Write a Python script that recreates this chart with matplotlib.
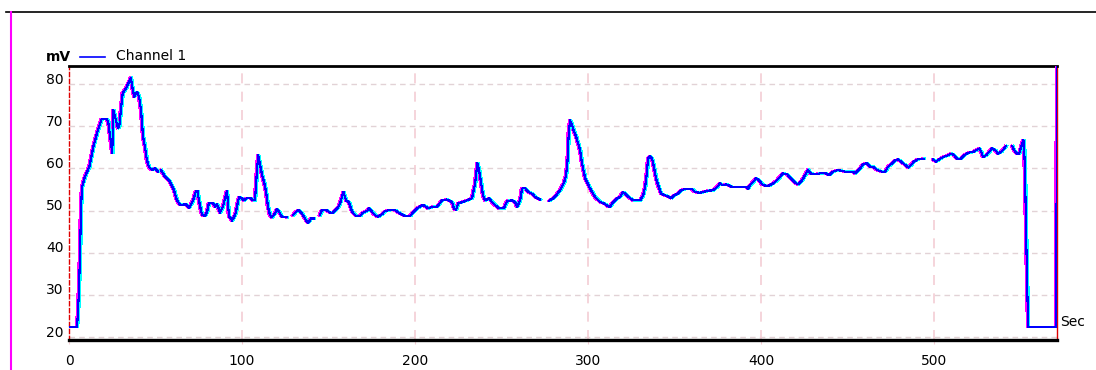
import numpy as np
import matplotlib
matplotlib.use("Agg")
import matplotlib.pyplot as plt
from matplotlib import transforms
from matplotlib.lines import Line2D

nan = np.nan

# time (sec) and channel 1 reading (mV)
t = [0, 4.6, 5.2, 5.8, 6.4, 6.9, 7.5, 9.2, 11.7, 14, 16.4, 18.9, 21.8, 22.7, 25,
     25.6, 28.3, 29, 30, 31, 33, 34.7, 35.8, 36.4, 37.7, 39.3, 40.5, 41.6, 42.8,
     43.9, 45, 46.2, 48, 49.7, 51.4, 52.3, 53.2, 55.5, 58.4, 60.7, 62.4, 64.2,
     67.6, 69.4, 71.7, 73.4, 74.3, 75.1, 76.9, 78.6, 79.8, 80.9, 83.2, 84.4, 85.5,
     87.3, 89, 90.6, 91.3, 92.5, 93.6, 94.2, 96, 97.1, 98.3, 100, 101.2, 102.9,
     104.6, 106.4, 107.5, 108.7, 109.4, 110.4, 111.6, 112.7, 113.9, 115, 116.2,
     117.3, 119, 120.2, 121.4, 123.1, 126, 127.5, 129.5, 131.2, 132.9, 135.3, 137,
     138.2, 139.9, 141.6, 143.5, 145, 146.2, 148.6, 150.9, 152.6, 154.3, 156,
     157.2, 158.6, 160.1, 161.8, 163.6, 165.9, 168.2, 169.9, 172.3, 173.4, 175.1,
     176.9, 178.6, 180.9, 182.7, 185.5, 188.4, 191.3, 194.2, 197.1, 200, 202.9,
     204.8, 207.5, 210.4, 212.7, 215.6, 218.5, 221.4, 222.5, 223.7, 224.9, 227.2,
     230, 232.9, 234.7, 236, 237, 238.2, 239.3, 240.5, 242.8, 244.5, 246.2, 248.6,
     251.4, 253.2, 256.1, 257.8, 259, 260.7, 261.8, 263.6, 265.3, 267.6, 269.4,
     272.3, 275, 277.5, 279.8, 281.5, 283.8, 286.1, 287.3, 288.2, 288.8, 289.6,
     290.8, 291.9, 293.1, 295.4, 296.5, 298.3, 301.2, 304, 307, 309.2, 311.6,
     312.7, 314.5, 316.8, 318.5, 320.2, 322.5, 324.3, 326, 330.1, 331.8, 333,
     333.9, 334.7, 335.8, 337, 338.2, 339.3, 340.5, 342.2, 344.5, 346.8, 348,
     349.7, 352, 353.8, 356.1, 360.1, 361.8, 364.7, 369.4, 372.3, 374.6, 376.3,
     377.5, 379.8, 383.2, 387.9, 391.3, 392.5, 393.6, 395.4, 397.1, 398.8, 400.6,
     402.9, 405.2, 407.5, 409.2, 411, 412.7, 415, 417.3, 419.7, 421.4, 423.7, 426,
     427.2, 428.3, 431.2, 434.1, 437, 439.3, 441.6, 444.5, 448.6, 453.2, 454.3,
     457.2, 459, 461.3, 463, 464.7, 467.1, 470, 471.7, 473.4, 475.7, 477.5, 479.2,
     480.9, 483.2, 485, 486.7, 488.4, 490.8, 494.2, 497, 499.4, 501.2, 502.9,
     505.2, 508.1, 509.8, 511.6, 513.3, 515.6, 517.3, 519.7, 522.5, 524.3, 526,
     527.2, 528.3, 530, 531.8, 533.5, 535.3, 537, 538.7, 540.5, 541.5, 543.5,
     545.1, 546.2, 548, 549.1, 550.3, 551.6, 552, 552.6, 553.1, 554.3, 570.5,
     571.1]
mv = [22.4, 22.4, 25.7, 31.8, 40, 50, 55.5, 58, 60.3, 65, 68.6, 71.7, 71.7, 71,
      63.6, 73.9, 69.5, 69.8, 73.9, 77.8, 79, 80.5, 81.5, 79.7, 77, 78.1, 77,
      73.9, 67.5, 65.1, 62, 60.3, 59.6, 60, 59.2, nan, 59.6, 58, 56.8, 54.8, 52.4,
      51.3, 51.5, 50.6, 52.4, 54.6, 54.6, 52.4, 48.9, 48.7, 49.7, 51.8, 51.8,
      50.9, 51.6, 49.5, 50.9, 53.6, 54.6, 48.5, 48.1, 47.6, 48.9, 50.9, 53.2,
      52.9, 52.4, 53, 53, 52.4, 52.4, 60, 63.1, 60.8, 58.4, 56.8, 54.4, 50.9,
      48.9, 48.4, 49.3, 50.3, 49.7, 48.5, 48.4, nan, 48.9, 49.7, 50.1, 48.9, 47.7,
      47.1, 48.1, 48.1, nan, 48.9, 50.1, 50.1, 49.5, 49.5, 50.3, 51, 52.4, 54.4,
      52.4, 52, 49.7, 48.7, 48.7, 49.5, 49.9, 50.5, 49.7, 48.9, 48.5, 49.1, 49.9,
      50.1, 50.1, 49.3, 48.7, 48.7, 50.1, 51, 51.3, 50.5, 50.9, 50.9, 52.4, 52.6,
      52, 50.5, 50.1, 51.7, 52, 52.4, 52.9, 56.4, 61.2, 59.6, 56.4, 53.6, 52.4,
      52.9, 52, 51.3, 50.5, 50.5, 52.3, 52.4, 52, 50.9, 52.4, 55.2, 55.3, 54.4, 54,
      53.2, 52.6, nan, 52.3, 52.9, 53.6, 54.8, 56.6, 58.4, 62.3, 68.3, 71.4, 70.2,
      68.7, 67.5, 64.3, 61.2, 57.6, 55.2, 53.2, 52, 51.7, 51, 50.9, 52, 52.9, 53.2,
      54.4, 53.6, 52.9, 52.4, 52.4, 53.6, 55.6, 58.8, 62.3, 62.9, 62.3, 60, 57.6,
      56, 54, 53.6, 53.2, 52.9, 53.6, 54, 54.8, 55.1, 55.1, 54.4, 54.2, 54.7, 54.8,
      55.6, 56.4, 56, 56.2, 55.6, 55.6, 55.6, 55.2, 56, 56.8, 57.6, 57.2, 56.2,
      55.8, 56, 56.6, 57.2, 58, 58.8, 58.6, 57.6, 56.6, 56.2, 57.2, 58.8, 59.7,
      58.8, 58.6, 58.8, 58.9, 58.4, 59.2, 59.6, 59.2, 59.2, 58.8, 60, 61, 61.2,
      60.4, 60.4, 59.6, 59.2, 59.2, 60.4, 61.2, 61.9, 62.1, 61.6, 60.8, 60.2, 60.8,
      61.6, 62.2, 62.3, nan, 62.1, 61.6, 62.1, 62.7, 63.1, 63.5, 63.1, 62.3, 62.3,
      63.1, 63.7, 63.9, 64.3, 64.7, 63.9, 62.7, 63.1, 63.9, 64.7, 64.3, 63.5, 63.9,
      64.7, 65.3, nan, 65.3, 64.3, 63.5, 63.5, 65.1, 66.7, 65.5, 57.2, 45.4, 22.4,
      22.4, 95]

xticks = [0, 100, 200, 300, 400, 500]
yticks = [20, 30, 40, 50, 60, 70, 80]

W, H = 1096, 370
fig = plt.figure(figsize=(W / 100, H / 100), dpi=100)
plt.rcParams['font.family'] = ['DejaVu Sans']

ax = fig.add_axes([69 / W, 30 / H, (1057 - 69) / W, (340 - 66) / H])
ax.set_xlim(0, 571)
ax.set_ylim(19.29, 84.27)

# grid
for y in yticks:
    ax.axhline(y, color='#e2d2d6', lw=1, dashes=(4, 3), zorder=1)
for x in xticks[1:]:
    ax.axvline(x, color='#f4cdd4', lw=1.2, dashes=(6, 5), zorder=1)

# the trace, with the colour fringes of the original screen grab
off_l = transforms.offset_copy(ax.transData, fig=fig, x=-1, y=0, units='dots')
off_r = transforms.offset_copy(ax.transData, fig=fig, x=1, y=0, units='dots')
ax.plot(t, mv, color='#ff00ff', lw=1.1, transform=off_l, zorder=3, antialiased=False)
ax.plot(t, mv, color='#00ffff', lw=1.1, transform=off_r, zorder=3, antialiased=False)
ax.plot(t, mv, color='#0000ff', lw=0.8, zorder=4, antialiased=False)

# spines
ax.spines['left'].set_color('#dd0000')
ax.spines['left'].set_linestyle((0, (3, 2)))
ax.spines['left'].set_linewidth(1)
ax.spines['right'].set_color('#dd0000')
ax.spines['right'].set_linewidth(1)
ax.spines['bottom'].set_color('black')
ax.spines['bottom'].set_linewidth(2.4)
ax.spines['top'].set_color('black')
ax.spines['top'].set_linewidth(2.0)

ax.set_xticks(xticks)
ax.set_yticks(yticks)
ax.tick_params(axis='x', length=3, color='#f4cdd4', pad=7, labelsize=10)
ax.tick_params(axis='y', length=0, pad=4, labelsize=10)
shift = transforms.ScaledTranslation(0, 6 / 100, fig.dpi_scale_trans)
for lab in ax.get_yticklabels():
    lab.set_transform(lab.get_transform() + shift)

# header and axis captions
fig.text(46 / W, 1 - 57 / H, 'mV', fontsize=10, fontweight='bold', va='center')
fig.add_artist(Line2D([80 / W, 105 / W], [1 - 57 / H, 1 - 57 / H],
                      color='#0000ff', lw=1.2))
fig.text(116 / W, 1 - 56 / H, 'Channel 1', fontsize=10, va='center')
fig.text(1060 / W, 1 - 322 / H, 'Sec', fontsize=10, va='center')

# outer frame bits
fig.add_artist(Line2D([6 / W, 1], [1 - 12 / H, 1 - 12 / H], color='black', lw=1.2))
fig.add_artist(Line2D([10.5 / W, 10.5 / W], [0, 1 - 12 / H], color='#ff00ff', lw=1.5))

fig.savefig('out.png', dpi=100)
